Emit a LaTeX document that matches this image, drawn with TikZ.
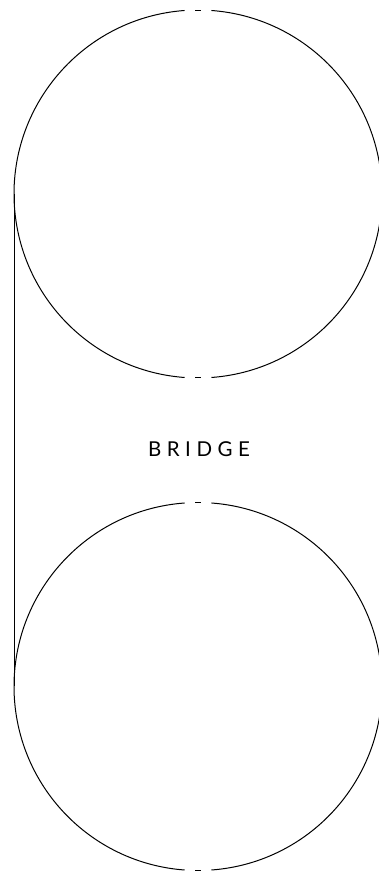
\documentclass[tikz,border=0pt]{standalone}
\usepackage{fontspec}
\setsansfont{Lato}
\usetikzlibrary{calc}

\begin{document}
\begin{tikzpicture}[x=1pt,y=1pt,line width=1pt]
  \useasboundingbox (0,0) rectangle (379,874);
  % Coordinates
  \coordinate (A) at (198, 680);
  \coordinate (B) at (198, 187.5);
  \coordinate (C) at (14, 680);
  \coordinate (D) at (14, 187.5);
  \coordinate (T) at (199, 425);

  % Drawing
  \draw (A) ++(94.2:184) arc (94.2:265.8:184);
  \draw (A) ++(-85.8:184) arc (-85.8:85.8:184);
  \draw (A) ++(89.2:184) arc (89.2:90.8:184);
  \draw (A) ++(269.2:184) arc (269.2:270.8:184);
  \draw (B) ++(94.2:184) arc (94.2:265.8:184);
  \draw (B) ++(-85.8:184) arc (-85.8:85.8:184);
  \draw (B) ++(89.2:184) arc (89.2:90.8:184);
  \draw (B) ++(269.2:184) arc (269.2:270.8:184);
  \draw (C) -- (D);
  \node[font=\sffamily\fontsize{20.5}{20.5}\selectfont\addfontfeatures{LetterSpace=27}] (bridge) at (T) {BRIDGE};
\end{tikzpicture}
\end{document}
